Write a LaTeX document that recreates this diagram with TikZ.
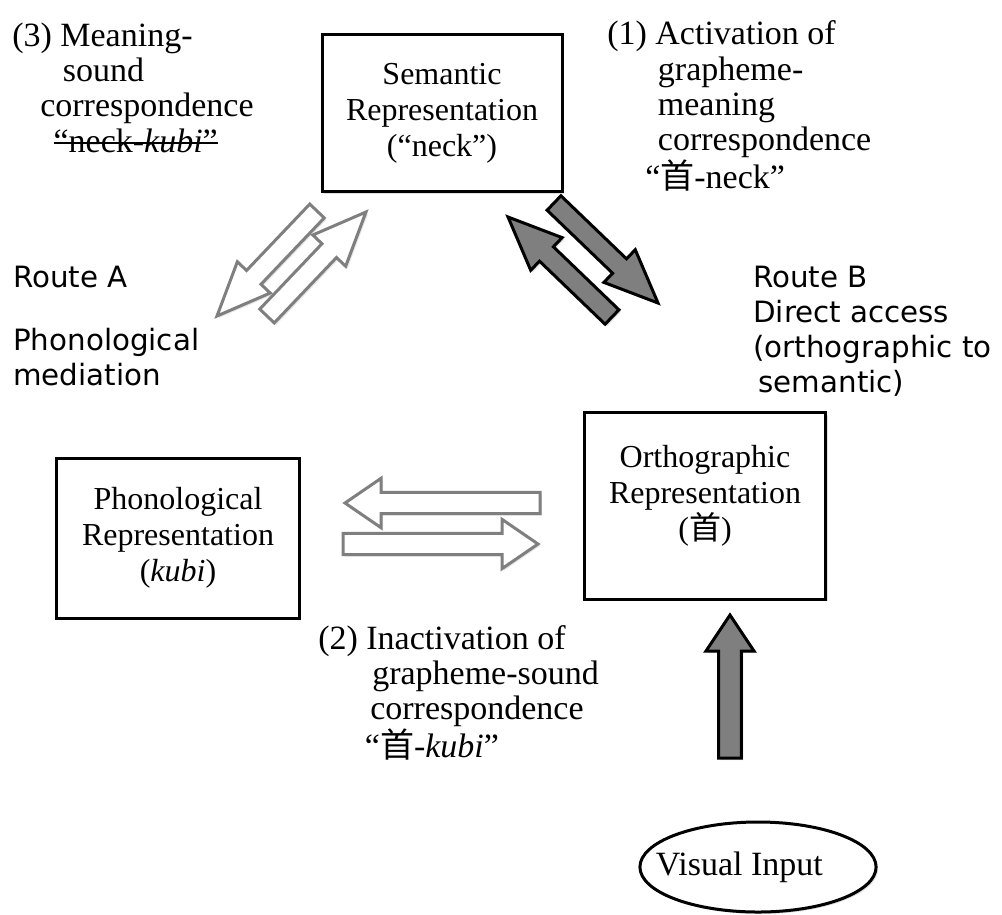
\documentclass[tikz,border=0pt]{standalone}
\usepackage{fontspec}
\setmainfont{Liberation Serif}
\setsansfont{DejaVu Sans}
\newfontfamily\cjk{Noto Sans CJK JP}
\usetikzlibrary{calc, shapes.geometric, shadows}
\definecolor{mid}{HTML}{7F7F7F}
\newsavebox{\strikebox}
\newcommand{\struck}[1]{\sbox{\strikebox}{#1}%
  \rlap{\usebox{\strikebox}}\rule[0.24em]{\wd\strikebox}{1.3pt}}
\tikzset{
  repbox/.style    = {draw=black, line width=2.25pt, fill=white, inner sep=0pt,
                      align=center, font=\fontsize{24}{27}\selectfont,
                      drop shadow={shadow xshift=1.5pt, shadow yshift=-1.5pt, opacity=0.25}},
  inputnode/.style = {ellipse, draw=black, line width=2.25pt, fill=white,
                      inner xsep=-14pt, inner ysep=0pt,
                      font=\fontsize{25.5}{26}\selectfont,
                      drop shadow={shadow xshift=1.5pt, shadow yshift=-1.5pt, opacity=0.25}},
  gloss/.style     = {anchor=base west, align=left, inner sep=0pt,
                      font=\fontsize{25.5}{26.5}\selectfont},
  route/.style     = {anchor=base west, align=left, inner sep=0pt,
                      font=\sffamily\fontsize{22}{26.25}\selectfont},
  openarrow/.style = {draw=mid, fill=white, line width=2.25pt,
                      drop shadow={shadow xshift=1.5pt, shadow yshift=-1.5pt, opacity=0.2}},
  darkarrow/.style = {draw=black, fill=mid, line width=2.25pt,
                      drop shadow={shadow xshift=1.5pt, shadow yshift=-1.5pt, opacity=0.25}},
}
% block arrow: [style]{tail}{tip}{half shaft}{head length}{half head}
\newcommand{\fatarrow}[6][]{%
  \coordinate (fa-base) at ($(#3)!#5!(#2)$);
  \draw[#1] ($(#2)!#4!90:(#3)$) -- ($(fa-base)!#4!-90:(#2)$)
    -- ($(fa-base)!#6!-90:(#2)$) -- (#3) -- ($(fa-base)!#6!90:(#2)$)
    -- ($(fa-base)!#4!90:(#2)$) -- ($(#2)!#4!-90:(#3)$) -- cycle;
}

\begin{document}
\begin{tikzpicture}[x=0.75pt, y=-0.75pt]
\useasboundingbox (0,0) rectangle (1002,914);

\node[repbox, minimum width=180pt, minimum height=118pt] (sem) at (442,113)
  {Semantic\\Representation\\(``neck'')};
\node[repbox, minimum width=181pt, minimum height=140pt] (orth) at (705,506)
  {Orthographic\\Representation\\({\cjk 首})\\[-7pt]\mbox{}};
\node[repbox, minimum width=182pt, minimum height=120pt] (phon) at (178,538)
  {Phonological\\Representation\\(\textit{kubi})};
\node[inputnode, minimum height=67.5pt] (vis) at (758,867)
  {Visual Input\hspace*{28pt}};

% last-line baselines
\node[gloss] (msc) at (12,152)
  {(3) Meaning-\\\hspace*{38pt}sound\\\hspace*{21pt}correspondence\\
   \hspace*{31pt}\struck{``neck-\textit{kubi}''}};
\node[gloss] (act) at (607,188)
  {(1) Activation of\\\hspace*{38pt}grapheme-\\\hspace*{38pt}meaning\\
   \hspace*{38pt}correspondence\\\hspace*{28.5pt}``{\cjk 首}-neck''};
\node[gloss] (inact) at (318,757)
  {(2) Inactivation of\\\hspace*{40.5pt}grapheme-sound\\
   \hspace*{39pt}correspondence\\\hspace*{35pt}``{\cjk 首}-\textit{kubi}''};
\node[route] (routeA) at (13,385) {Route A\\[21pt]Phonological\\mediation};
\node[route] (routeB) at (753,392)
  {Route B\\Direct access\\(orthographic to\\\hspace*{4pt}semantic)};

\coordinate (so-tail) at (554,203);  \coordinate (so-tip) at (658,303);
\coordinate (os-tail) at (612,317);  \coordinate (os-tip) at (508,217);
\coordinate (sp-tail) at (317,211);  \coordinate (sp-tip) at (217,316);
\coordinate (ps-tail) at (267,316);  \coordinate (ps-tip) at (366,212);
\coordinate (op-tail) at (540,503);  \coordinate (op-tip) at (345,503);
\coordinate (po-tail) at (343,544);  \coordinate (po-tip) at (538,544);
\coordinate (vo-tail) at (730,758);  \coordinate (vo-tip) at (730,615);

\fatarrow[darkarrow]{so-tail}{so-tip}{7.5pt}{40pt}{17pt}
\fatarrow[darkarrow]{os-tail}{os-tip}{7.5pt}{40pt}{17pt}
\fatarrow[openarrow]{sp-tail}{sp-tip}{7.5pt}{40pt}{17pt}
\fatarrow[openarrow]{ps-tail}{ps-tip}{7.5pt}{40pt}{17pt}
\fatarrow[openarrow]{op-tail}{op-tip}{8pt}{27pt}{18.5pt}
\fatarrow[openarrow]{po-tail}{po-tip}{8pt}{27pt}{18.5pt}
\fatarrow[darkarrow]{vo-tail}{vo-tip}{8.5pt}{27pt}{18pt}

\end{tikzpicture}
\end{document}
